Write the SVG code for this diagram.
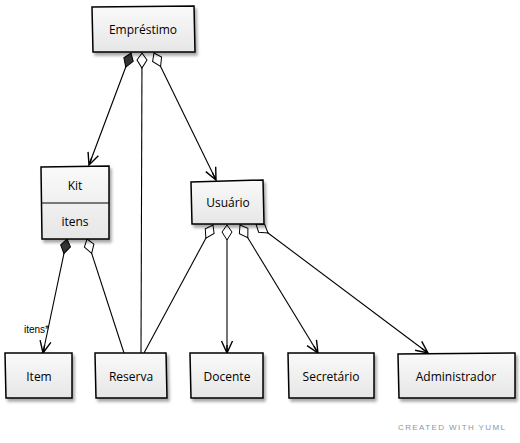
<svg xmlns="http://www.w3.org/2000/svg" width="520" height="443" viewBox="0 0 520 443">
  <defs>
    <linearGradient id="boxFill" x1="0" y1="0" x2="0" y2="1">
      <stop offset="0" stop-color="#fafafa"/>
      <stop offset="1" stop-color="#e6e6e6"/>
    </linearGradient>
    <filter id="shadow" x="-10%" y="-10%" width="130%" height="140%">
      <feGaussianBlur in="SourceAlpha" stdDeviation="1.5"/>
      <feOffset dx="2" dy="3" result="b"/>
      <feComponentTransfer><feFuncA type="linear" slope="0.35"/></feComponentTransfer>
      <feMerge><feMergeNode/><feMergeNode in="SourceGraphic"/></feMerge>
    </filter>
    <marker id="arrow" viewBox="0 0 14 14" refX="13" refY="7" markerWidth="14" markerHeight="14" markerUnits="userSpaceOnUse" orient="auto">
      <path d="M1,1.5 L13,7 L1,12.5 M5,7 L13,7" fill="none" stroke="#000" stroke-width="1.4"/>
    </marker>
    <marker id="diamondFilled" viewBox="0 0 18 12" refX="1" refY="6" markerWidth="18" markerHeight="12" markerUnits="userSpaceOnUse" orient="auto">
      <path d="M1,6 L8,1 L16,6 L8,11 Z" fill="#333" stroke="#000" stroke-width="1"/>
    </marker>
    <marker id="diamondOpen" viewBox="0 0 18 12" refX="1" refY="6" markerWidth="18" markerHeight="12" markerUnits="userSpaceOnUse" orient="auto">
      <path d="M1,6 L8,1 L16,6 L8,11 Z" fill="#fff" stroke="#000" stroke-width="1"/>
    </marker>
  </defs>
  <style>
    .box { fill: url(#boxFill); stroke: #000; stroke-width: 1.5; filter: url(#shadow); }
    .label { font-family: "Open Sans", "DejaVu Sans", sans-serif; font-size: 12px; fill: #000; text-anchor: middle; }
    .edge { fill: none; stroke: #000; stroke-width: 1.1; }
    .note { font-family: "Liberation Sans", sans-serif; font-size: 10px; fill: #000; }
    .credit { font-family: "Liberation Sans", sans-serif; font-size: 8px; fill: #8a97a8; letter-spacing: 1.4px; }
  </style>

  <g id="connectors">
    <!-- Empréstimo compositions/aggregations -->
    <path class="edge" d="M131,53 L89,165" marker-start="url(#diamondFilled)" marker-end="url(#arrow)"/>
    <path class="edge" d="M142,53 L141,353" marker-start="url(#diamondOpen)"/>
    <path class="edge" d="M154,53 L216,180" marker-start="url(#diamondOpen)" marker-end="url(#arrow)"/>
    <!-- Kit -->
    <path class="edge" d="M67,239 L43,353" marker-start="url(#diamondFilled)" marker-end="url(#arrow)"/>
    <path class="edge" d="M87,239 L124,353" marker-start="url(#diamondOpen)"/>
    <!-- Usuário -->
    <path class="edge" d="M213,225 L144,353" marker-start="url(#diamondOpen)"/>
    <path class="edge" d="M227,225 L227,353" marker-start="url(#diamondOpen)" marker-end="url(#arrow)"/>
    <path class="edge" d="M240,225 L318,353" marker-start="url(#diamondOpen)" marker-end="url(#arrow)"/>
    <path class="edge" d="M256,224 L428,353" marker-start="url(#diamondOpen)" marker-end="url(#arrow)"/>
    <text class="note" x="24" y="333">itens*</text>
  </g>

  <g id="emprestimo">
    <path class="box" d="M92,7 L194,6 L195,52 L93,52 Z"/>
    <text class="label" x="143" y="34">Empréstimo</text>
  </g>

  <g id="kit">
    <path class="box" d="M41,167 L109,166 L109,239 L42,239 Z"/>
    <path class="edge" d="M41,203 L109,203" stroke-width="1.4"/>
    <text class="label" x="75" y="190">Kit</text>
    <text class="label" x="75" y="226">itens</text>
  </g>

  <g id="usuario">
    <path class="box" d="M191,182 L263,180 L264,224 L192,224 Z"/>
    <text class="label" x="228" y="207">Usuário</text>
  </g>

  <g id="item">
    <path class="box" d="M5,353 L72,353 L72,398 L6,398 Z"/>
    <text class="label" x="39" y="381">Item</text>
  </g>

  <g id="reserva">
    <path class="box" d="M95,353 L166,353 L167,398 L96,398 Z"/>
    <text class="label" x="131" y="381">Reserva</text>
  </g>

  <g id="docente">
    <path class="box" d="M190,353 L263,353 L263,398 L191,398 Z"/>
    <text class="label" x="227" y="381">Docente</text>
  </g>

  <g id="secretario">
    <path class="box" d="M288,353 L374,353 L374,398 L289,398 Z"/>
    <text class="label" x="331" y="381">Secretário</text>
  </g>

  <g id="administrador">
    <path class="box" d="M398,354 L515,353 L515,398 L399,398 Z"/>
    <text class="label" x="456" y="381">Administrador</text>
  </g>

  <text class="credit" x="398" y="430">CREATED WITH YUML</text>
</svg>
